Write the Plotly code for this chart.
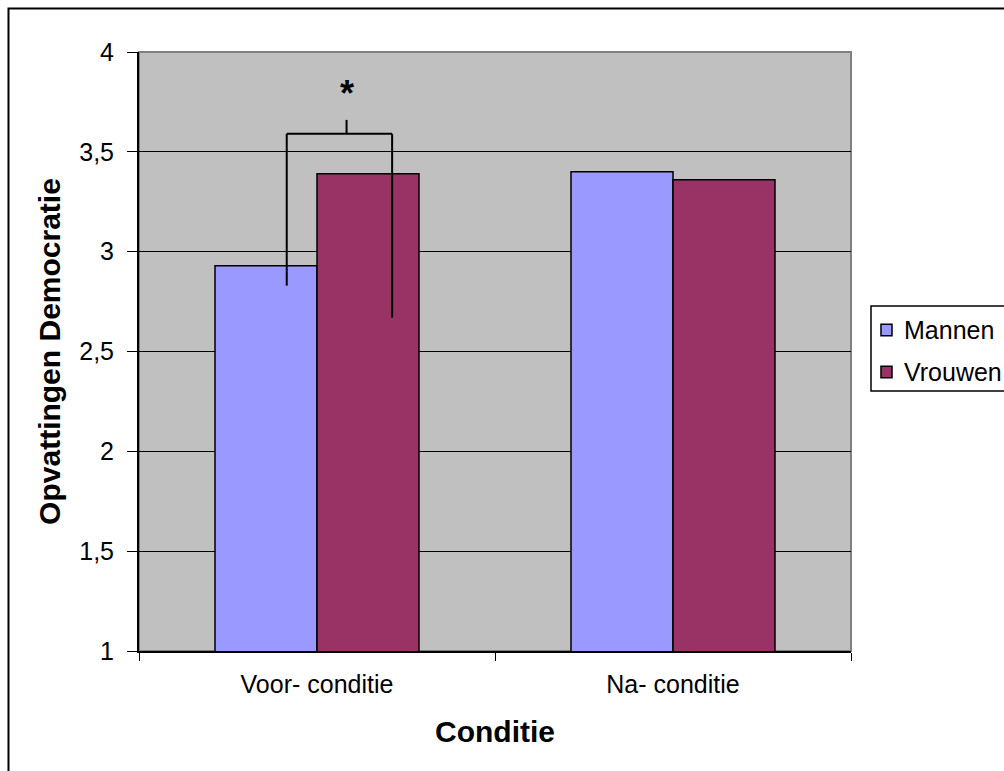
import plotly.graph_objects as go

# data
condities = ["Voor- conditie", "Na- conditie"]
mannen = [2.93, 3.40]
vrouwen = [3.39, 3.36]
series_names = ["Mannen", "Vrouwen"]
series_colors = ["#9999FF", "#993366"]
y_ticks = [1, 1.5, 2, 2.5, 3, 3.5, 4]
y_ticklabels = ["1", "1,5", "2", "2,5", "3", "3,5", "4"]

# significance bracket (Voor- conditie): left leg, right leg, tip x / leg bottoms, top, tip y
bracket_x = [-0.085, 0.211, 0.083]
bracket_y = [2.83, 2.67, 3.59, 3.66]
star_y = 3.79

FONT = "Liberation Sans, Arial, sans-serif"

fig = go.Figure()
for name, vals, col in zip(series_names, [mannen, vrouwen], series_colors):
    fig.add_trace(go.Bar(
        x=condities, y=vals, name=name, showlegend=False,
        marker=dict(color=col, line=dict(color="black", width=1.5)),
    ))

fig.update_layout(
    width=1004, height=771,
    margin=dict(l=139, r=153, t=52, b=120, autoexpand=False),
    paper_bgcolor="white", plot_bgcolor="#C0C0C0",
    font=dict(family=FONT, size=25, color="black"),
    barmode="group", bargap=0.427, bargroupgap=0,
    separators=",.",
    xaxis=dict(
        title=dict(text="<b>Conditie</b>", standoff=24),
        showgrid=False, showline=True, linecolor="black", linewidth=2,
        ticks="outside", tickson="boundaries", ticklen=8, tickcolor="black",
        ticklabelstandoff=10,
    ),
    yaxis=dict(
        title=dict(text="<b>Opvattingen Democratie</b>", standoff=10),
        range=[1, 4], tickvals=y_ticks, ticktext=y_ticklabels,
        showgrid=True, gridcolor="black", gridwidth=1, zeroline=False,
        showline=True, linecolor="black", linewidth=2,
        ticks="outside", ticklen=10, tickcolor="black",
        ticklabelstandoff=8,
    ),
)

# grey plot border (top / right)
fig.add_shape(type="rect", xref="paper", yref="paper", x0=0, x1=1, y0=0, y1=1,
              line=dict(color="#808080", width=2), layer="below")
# outer chart frame
fig.add_shape(type="rect", xref="paper", yref="paper",
              x0=-0.1833, x1=1.4, y0=-0.4, y1=1.0726,
              line=dict(color="black", width=2))

# legend box (runs off the right edge, as in the original)
fig.add_shape(type="rect", xref="paper", yref="paper",
              x0=1.0281, x1=1.25, y0=0.4341, y1=0.5760,
              line=dict(color="black", width=1.5), fillcolor="white")
legend_rows = [0.5359, 0.4658]
for name, col, ry in zip(series_names, series_colors, legend_rows):
    fig.add_shape(type="rect", xref="paper", yref="paper",
                  x0=1.0421, x1=1.0576, y0=ry - 0.0095, y1=ry + 0.0095,
                  line=dict(color="black", width=1.5), fillcolor=col)
    fig.add_annotation(x=1.0716, y=ry, xref="paper", yref="paper", text=name,
                       showarrow=False, xanchor="left", yanchor="middle",
                       font=dict(size=25))

# bracket
bl = dict(color="black", width=2)
fig.add_shape(type="line", xref="x", yref="y", x0=bracket_x[0], x1=bracket_x[0],
              y0=bracket_y[0], y1=bracket_y[2], line=bl)
fig.add_shape(type="line", xref="x", yref="y", x0=bracket_x[1], x1=bracket_x[1],
              y0=bracket_y[1], y1=bracket_y[2], line=bl)
fig.add_shape(type="line", xref="x", yref="y", x0=bracket_x[0], x1=bracket_x[1],
              y0=bracket_y[2], y1=bracket_y[2], line=bl)
fig.add_shape(type="line", xref="x", yref="y", x0=bracket_x[2], x1=bracket_x[2],
              y0=bracket_y[2], y1=bracket_y[3], line=bl)
fig.add_annotation(x=bracket_x[2], y=star_y, xref="x", yref="y", text="<b>*</b>",
                   showarrow=False, font=dict(size=36), yanchor="middle")

# the page's default body margin would shift the chart; remove it
fig.write_html("out.html", config={"displayModeBar": False},
               post_script="document.body.style.margin='0';document.body.style.overflow='hidden';")
